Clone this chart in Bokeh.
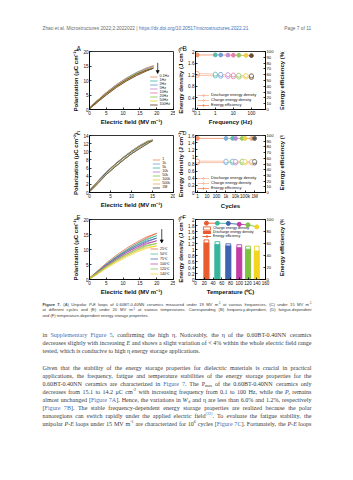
import re, math
from bokeh.plotting import figure
from bokeh.layouts import column, row
from bokeh.models import (Range1d, LinearAxis, Label, Legend, LegendItem, Arrow,
                          NormalHead, FixedTicker, ColumnDataSource)
from bokeh.core.properties import value
from bokeh.embed import file_html
from bokeh.resources import INLINE

# ====================== DATA ======================
# (A) unipolar P-E loops at various frequencies (19 MV/m)
A_FIELD = [0, 2, 5, 8, 11, 14, 17, 19]
A_LABELS = ["0.1Hz", "1Hz", "2Hz", "5Hz", "10Hz", "20Hz", "50Hz", "100Hz"]
A_UP = [
    [0.2, 2.3, 5.3, 8.0, 10.3, 12.3, 14.0, 15.1],
    [0.2, 2.3, 5.2, 7.9, 10.2, 12.2, 13.9, 14.9],
    [0.2, 2.3, 5.2, 7.9, 10.1, 12.1, 13.8, 14.8],
    [0.2, 2.2, 5.2, 7.8, 10.1, 12.0, 13.7, 14.7],
    [0.2, 2.2, 5.1, 7.8, 10.0, 12.0, 13.6, 14.6],
    [0.2, 2.2, 5.1, 7.7, 10.0, 11.9, 13.5, 14.5],
    [0.2, 2.2, 5.1, 7.7, 9.9, 11.8, 13.4, 14.35],
    [0.2, 2.2, 5.0, 7.6, 9.8, 11.7, 13.3, 14.2],
]
A_DOWN = [
    [0.5, 2.8, 5.9, 8.6, 10.9, 12.8, 14.4, 15.1],
    [0.5, 2.8, 5.8, 8.5, 10.8, 12.7, 14.2, 14.9],
    [0.5, 2.8, 5.8, 8.5, 10.7, 12.6, 14.1, 14.8],
    [0.5, 2.7, 5.7, 8.4, 10.6, 12.5, 14.0, 14.7],
    [0.5, 2.7, 5.7, 8.3, 10.6, 12.4, 13.9, 14.6],
    [0.5, 2.7, 5.6, 8.3, 10.5, 12.4, 13.8, 14.5],
    [0.5, 2.7, 5.6, 8.2, 10.4, 12.3, 13.7, 14.35],
    [0.5, 2.6, 5.5, 8.1, 10.3, 12.2, 13.6, 14.2],
]
A_ARROW = [20.3, 16.1, 12.4]          # x, y start, y end
A_NOTE = "0.60BT-0.40NN@19MV m⁻¹&25℃"
A_XTICKS = [0, 5, 10, 15, 20, 25]
A_YTICKS = [0, 5, 10, 15, 20]

# (B) frequency-dependent energy storage
B_FREQ = [0.1, 1, 2, 5, 10, 20, 50, 100]
B_CHARGE = [1.24, 1.22, 1.21, 1.20, 1.19, 1.18, 1.17, 1.16]
B_DISCHARGE = [1.18, 1.16, 1.15, 1.14, 1.13, 1.12, 1.12, 1.11]
B_EFF = [94.0, 94.1, 94.0, 93.8, 93.6, 93.5, 93.2, 92.9]
B_XTICKS = [0.1, 1, 10, 100]
B_XLABELS = ["0.1", "1", "10", "100"]
B_YTICKS = [0.0, 0.4, 0.8, 1.2, 1.6, 2.0]
B_RTICKS = [0, 10, 20, 30, 40, 50, 60, 70, 80, 90, 100]

# (C) P-E loops at different cycles (15 MV/m)
C_FIELD = [0, 2, 4, 6, 8, 10, 12, 14, 15]
C_LABELS = ["1", "1k", "5k", "10k", "50k", "100k", "500k", "1M"]
C_UP = [
    [0.2, 2.3, 4.5, 6.3, 8.0, 9.6, 11.0, 12.3, 12.9],
    [0.2, 2.3, 4.5, 6.3, 8.0, 9.6, 11.0, 12.3, 12.9],
    [0.2, 2.3, 4.5, 6.3, 8.0, 9.6, 11.0, 12.2, 12.8],
    [0.2, 2.3, 4.5, 6.3, 8.0, 9.6, 10.9, 12.2, 12.8],
    [0.2, 2.3, 4.4, 6.3, 8.0, 9.5, 10.9, 12.2, 12.8],
    [0.2, 2.3, 4.4, 6.2, 7.9, 9.5, 10.9, 12.2, 12.8],
    [0.2, 2.2, 4.4, 6.2, 7.9, 9.5, 10.9, 12.1, 12.7],
    [0.2, 2.2, 4.4, 6.2, 7.9, 9.5, 10.8, 12.1, 12.7],
]
C_DOWN = [
    [0.5, 2.8, 5.0, 6.9, 8.6, 10.2, 11.6, 12.7, 12.9],
    [0.5, 2.8, 5.0, 6.9, 8.6, 10.2, 11.6, 12.7, 12.9],
    [0.5, 2.8, 5.0, 6.9, 8.6, 10.2, 11.5, 12.6, 12.8],
    [0.5, 2.8, 5.0, 6.9, 8.6, 10.1, 11.5, 12.6, 12.8],
    [0.5, 2.8, 4.9, 6.8, 8.6, 10.1, 11.5, 12.6, 12.8],
    [0.5, 2.8, 4.9, 6.8, 8.5, 10.1, 11.5, 12.6, 12.8],
    [0.5, 2.7, 4.9, 6.8, 8.5, 10.1, 11.4, 12.5, 12.7],
    [0.5, 2.7, 4.9, 6.8, 8.5, 10.0, 11.4, 12.5, 12.7],
]
C_NOTE = "0.60BT-0.40NN@25℃ &15 MV m⁻¹ &10Hz"
C_XTICKS = [0, 5, 10, 15, 20]
C_YTICKS = [0, 2, 4, 6, 8, 10, 12, 14]

# (D) fatigue-dependent energy storage
D_CYCLES = [1, 1e3, 5e3, 1e4, 5e4, 1e5, 5e5, 1e6]
D_CHARGE = [0.88, 0.88, 0.88, 0.87, 0.88, 0.87, 0.87, 0.87]
D_DISCHARGE = [0.84, 0.84, 0.84, 0.83, 0.84, 0.83, 0.83, 0.83]
D_EFF = [95.0, 94.9, 95.0, 94.8, 94.9, 94.8, 94.7, 94.8]
D_XTICKS = [1, 10, 100, 1000, 10000, 100000, 1000000]
D_XLABELS = ["1", "10", "100", "1k", "10k", "100k", "1M"]
D_YTICKS = [0.0, 0.2, 0.4, 0.6, 0.8, 1.0, 1.2, 1.4, 1.6]
D_RTICKS = [0, 10, 20, 30, 40, 50, 60, 70, 80, 90, 100]

# (E) P-E loops at various temperatures (20 MV/m)
E_FIELD = [0, 2, 5, 8, 11, 14, 17, 20]
E_LABELS = ["25℃", "50℃", "75℃", "100℃", "120℃", "140℃"]
E_UP = [
    [0.2, 2.0, 4.9, 7.5, 9.8, 11.9, 13.8, 15.4],
    [0.2, 1.9, 4.7, 7.2, 9.4, 11.4, 13.2, 14.6],
    [0.2, 1.8, 4.5, 6.9, 9.0, 10.9, 12.5, 13.8],
    [0.2, 1.7, 4.2, 6.5, 8.5, 10.3, 11.8, 12.9],
    [0.2, 1.6, 4.0, 6.1, 8.0, 9.7, 11.1, 12.0],
    [0.2, 1.5, 3.7, 5.7, 7.5, 9.1, 10.4, 11.2],
]
E_DOWN = [
    [0.5, 2.5, 5.5, 8.1, 10.4, 12.4, 14.2, 15.4],
    [0.5, 2.4, 5.2, 7.7, 9.9, 11.9, 13.5, 14.6],
    [0.5, 2.2, 5.0, 7.4, 9.5, 11.3, 12.8, 13.8],
    [0.5, 2.1, 4.7, 7.0, 9.0, 10.7, 12.1, 12.9],
    [0.5, 2.0, 4.4, 6.6, 8.4, 10.1, 11.4, 12.0],
    [0.5, 1.9, 4.1, 6.1, 7.9, 9.5, 10.7, 11.2],
]
E_ARROW = [21.5, 16.8, 12.2]
E_NOTE = "0.60BT-0.40NN@20MV m⁻¹ & 10 Hz"
E_XTICKS = [0, 5, 10, 15, 20, 25]
E_YTICKS = [0, 5, 10, 15, 20]

# (F) temperature-dependent energy storage
F_TEMP = [25, 50, 75, 100, 120, 140]
F_CHARGE = [1.32, 1.26, 1.19, 1.16, 1.11, 1.11]
F_DISCHARGE = [1.22, 1.17, 1.12, 1.06, 1.01, 0.95]
F_EFF = [93.9, 93.8, 93.5, 92.0, 91.1, 87.7]
F_XTICKS = [0, 20, 40, 60, 80, 100, 120, 140, 160]
F_YTICKS = [0.0, 0.2, 0.4, 0.6, 0.8, 1.0, 1.2, 1.4, 1.6, 1.8, 2.0]
F_RTICKS = [0, 20, 40, 60, 80, 100]

# ====================== PAGE TEXT ======================
HEADER_LEFT = "Zhao et al. Microstructures 2022;2:2022022 | "
HEADER_URL = "https://dx.doi.org/10.20517/microstructures.2022.21"
HEADER_RIGHT = "Page 7 of 11"
RIGHT_TITLE = "Energy efficiency (%)"
CAPTION = [
    "{B:Figure 7.} (A) Unipolar {I:P-E} loops of 0.60BT-0.40NN ceramics measured under 19 MV m{P:-1} at various frequencies, (C) under 15 MV m{P:-1}",
    "at different cycles and (E) under 20 MV m{P:-1} at various temperatures. Corresponding (B) frequency-dependent, (D) fatigue-dependent",
    "and (F) temperature-dependent energy storage properties.",
]
PARA1 = [
    "in {L:Supplementary Figure 5}, confirming the high η. Noticeably, the η of the 0.60BT-0.40NN ceramics",
    "decreases slightly with increasing {I:E} and shows a slight variation of < 4% within the whole electric field range",
    "tested, which is conducive to high η energy storage applications.",
]
PARA2 = [
    "Given that the stability of the energy storage properties for dielectric materials is crucial in practical",
    "applications, the frequency, fatigue and temperature stabilities of the energy storage properties for the",
    "0.60BT-0.40NN ceramics are characterized in {L:Figure 7}. The P{S:max} of the 0.60BT-0.40NN ceramics only",
    "decreases from 15.1 to 14.2 μC cm{P:-2} with increasing frequency from 0.1 to 100 Hz, while the {I:P}{S:r} remains",
    "almost unchanged [{L:Figure 7A}]. Hence, the variations in {I:W}{S:d} and η are less than 6.0% and 1.2%, respectively",
    "[{L:Figure 7B}]. The stable frequency-dependent energy storage properties are realized because the polar",
    "nanoregions can switch rapidly under the applied electric field{Q:[32]}. To evaluate the fatigue stability, the",
    "unipolar {I:P-E} loops under 15 MV m{P:-1} are characterized for 10{P:6} cycles [{L:Figure 7C}]. Fortunately, the {I:P-E} loops",
]

# ====================== STYLE / LAYOUT ======================
SANS = "Liberation Sans"
SERIF = "Liberation Serif"
FREQ_COLORS = ["#f2956c", "#4fbfb0", "#6f9fd8", "#c58ad4", "#e57fb0", "#8fcb5f", "#ecd044", "#6b4a3a"]
CYC_COLORS = ["#f2956c", "#7aaee0", "#4fbfb0", "#b48ad6", "#8fcb5f", "#ecd044", "#e8b27a", "#5a5a5a"]
TEMP_COLORS = ["#ea5a2e", "#35b59c", "#3e63b0", "#c23da6", "#7fc241", "#f4d41f"]
TEXT_COL = "#3a3a3a"
LINK_COL = "#3f72b8"
INK = "#111111"

W = 353
LEFT_W = 175
STRIP_X = 276                     # right-hand strip holding the rotated efficiency titles
HEADER_H = 38
ROWS = [(38, 127), (127, 211), (211, 297)]
FRAME_X = [(89, 173), (191, 267)]
FRAME_Y = [(51, 113), (133, 194), (218, 280)]
RIGHT_TITLE_X = 281
LETTER_OFFSET = -13

TIMES = ([250, 333, 408, 500, 500, 833, 778, 180, 333, 333, 500, 564, 250, 333, 250, 278] + [500] * 10 +
         [278, 278, 564, 564, 564, 444, 921] +
         [722, 667, 667, 722, 611, 556, 722, 722, 333, 389, 722, 611, 889, 722, 722, 556, 722, 667, 556,
          611, 722, 722, 944, 722, 722, 611] + [333, 278, 333, 469, 500, 333] +
         [444, 500, 444, 500, 444, 333, 500, 500, 278, 278, 500, 278, 778, 500, 500, 500, 500, 333, 389,
          278, 500, 500, 722, 500, 500, 444] + [480, 200, 480, 541])
HELV = ([278, 278, 355, 556, 556, 889, 667, 191, 333, 333, 389, 584, 278, 333, 278, 278] + [556] * 10 +
        [278, 278, 584, 584, 584, 556, 1015] +
        [667, 667, 722, 722, 667, 611, 778, 722, 278, 500, 667, 556, 833, 722, 778, 667, 778, 722, 667,
         611, 722, 667, 944, 667, 667, 611] + [278, 278, 278, 469, 556, 333] +
        [556, 556, 500, 556, 556, 278, 556, 556, 222, 222, 500, 222, 833, 556, 556, 556, 556, 333, 500,
         278, 556, 500, 722, 500, 500, 500] + [334, 260, 334, 584])
EXTRA = {"η": 500, "μ": 560, "⁻": 330, "¹": 300, "²": 300, "³": 300, "⁶": 300, "℃": 950}


def em_width(s, table):
    w = 0
    for ch in s:
        o = ord(ch)
        w += table[o - 32] if 32 <= o <= 126 else EXTRA.get(ch, 500)
    return w / 1000.0


TOK = re.compile(r"\{([LISPQB]):([^}]*)\}")


def parse(s):
    runs, pos = [], 0
    for m in TOK.finditer(s):
        if m.start() > pos:
            runs.append((s[pos:m.start()], "n"))
        runs.append((m.group(2), m.group(1)))
        pos = m.end()
    if pos < len(s):
        runs.append((s[pos:], "n"))
    return runs


def words_of(runs):
    words = [[]]
    for text, st in runs:
        parts = text.split(" ")
        for k, part in enumerate(parts):
            if k > 0:
                words.append([])
            if part:
                words[-1].append((part, st))
    return [w for w in words if w]


# style: size factor, baseline shift (in em, + is down), font style, colour
STY = {"n": (1.0, 0.0, "normal", TEXT_COL), "L": (1.0, 0.0, "normal", LINK_COL),
       "I": (1.0, 0.0, "italic", TEXT_COL), "B": (1.0, 0.0, "bold", TEXT_COL),
       "S": (0.68, 0.32, "normal", TEXT_COL), "P": (0.68, -0.38, "normal", TEXT_COL),
       "Q": (0.68, -0.38, "normal", LINK_COL)}


def piece_w(text, st, size, table):
    f = STY[st][0] * (1.07 if st == "B" else 1.0)
    return em_width(text, table) * size * f


def set_lines(data, lines, ys, x0, x1, size, table, justify):
    for line, y, jus in zip(lines, ys, justify):
        words = words_of(parse(line))
        widths = [sum(piece_w(t, s, size, table) for t, s in w) for w in words]
        space = em_width(" ", table) * size
        if jus and len(words) > 1:
            space = (x1 - x0 - sum(widths)) / (len(words) - 1)
        x = x0
        for w, ww in zip(words, widths):
            xx = x
            for t, s in w:
                f, dy, fs, col = STY[s]
                data["x"].append(xx)
                data["y"].append(y + dy * size)
                data["t"].append(t)
                data["c"].append(col)
                data["fs"].append(fs)
                data["sz"].append("%.2fpx" % (size * f))
                xx += piece_w(t, s, size, table)
            x += ww + space


def plain_figure(x0, x1, y0, y1):
    """figure whose data coordinates are page pixels (y measured upward as -page_y)"""
    p = figure(width=x1 - x0, height=y1 - y0, x_range=Range1d(x0, x1), y_range=Range1d(-y1, -y0),
               x_axis_type=None, y_axis_type=None, output_backend="svg",
               toolbar_location=None, min_border=0)
    p.grid.visible = False
    p.outline_line_color = None
    p.background_fill_color = "white"
    p.border_fill_color = "white"
    return p


def draw_runs(p, data, font):
    d = dict(data)
    d["y"] = [-v for v in data["y"]]
    p.text(x="x", y="y", text="t", text_color="c", text_font_style="fs", text_font_size="sz",
           text_font=value(font), text_baseline="middle", text_align="left", source=ColumnDataSource(d))


def new_data():
    return {"x": [], "y": [], "t": [], "c": [], "fs": [], "sz": []}


# ---------- header ----------
header = plain_figure(0, W, 0, HEADER_H)
hsize = (248 - 42) / em_width(HEADER_LEFT + HEADER_URL, HELV)
hd = new_data()
for txt, x, col in [(HEADER_LEFT, 42, "#6a6a6a"),
                    (HEADER_URL, 42 + em_width(HEADER_LEFT, HELV) * hsize, LINK_COL),
                    (HEADER_RIGHT, 311 - em_width(HEADER_RIGHT, HELV) * hsize, "#6a6a6a")]:
    hd["x"].append(x); hd["y"].append(28); hd["t"].append(txt); hd["c"].append(col)
    hd["fs"].append("normal"); hd["sz"].append("%.2fpx" % hsize)
draw_runs(header, hd, SANS)


# ---------- panels ----------
def style_axis(ax, label_size="6px", tick_size="4.6px"):
    ax.axis_label_text_font = SANS
    ax.axis_label_text_font_style = "bold"
    ax.axis_label_text_font_size = label_size
    ax.axis_label_text_color = INK
    ax.axis_label_standoff = 1
    ax.major_label_text_font = SANS
    ax.major_label_text_font_size = tick_size
    ax.major_label_text_color = INK
    ax.major_label_standoff = 1
    ax.major_tick_in = 2
    ax.major_tick_out = 0
    ax.minor_tick_line_color = None
    ax.axis_line_width = 0.8
    ax.major_tick_line_width = 0.8


def panel(col, r, xr, yr, xlabel, ylabel, letter, letter_size, x_type="linear"):
    top, bottom = ROWS[r]
    fx0, fx1 = FRAME_X[col]
    fy0, fy1 = FRAME_Y[r]
    x0 = 0 if col == 0 else LEFT_W
    x1 = LEFT_W if col == 0 else STRIP_X
    p = figure(width=x1 - x0, height=bottom - top, x_range=xr, y_range=yr, x_axis_type=x_type,
               output_backend="svg", toolbar_location=None, title=letter,
               min_border_left=fx0 - x0, min_border_right=x1 - fx1,
               min_border_top=fy0 - top, min_border_bottom=bottom - fy1)
    p.title.align = "left"
    p.title.offset = LETTER_OFFSET
    p.title.standoff = 0
    p.title.text_font = SANS
    p.title.text_font_size = letter_size
    p.title.text_font_style = "normal"
    p.title.text_color = INK
    p.grid.visible = False
    p.outline_line_color = "black"
    p.outline_line_width = 0.8
    p.background_fill_color = "white"
    p.border_fill_color = "white"
    p.xaxis.axis_label = xlabel
    p.yaxis.axis_label = ylabel
    for ax in p.axis:
        style_axis(ax)
    return p


def small_legend(p, items, loc, fs="3.6px", gw=8, gh=3, lh=3, margin=3):
    leg = Legend(items=items, location=loc)
    leg.label_text_font = SANS
    leg.label_text_font_size = fs
    leg.label_text_color = INK
    leg.glyph_width = gw
    leg.glyph_height = gh
    leg.label_height = lh
    leg.label_width = 4
    leg.label_standoff = 2
    leg.spacing = 0
    leg.padding = 1
    leg.margin = margin
    leg.border_line_color = None
    leg.background_fill_alpha = 0
    p.add_layout(leg)
    return leg


def right_axis(p, ticks):
    p.extra_y_ranges = {"eff": Range1d(0, 100)}
    rax = LinearAxis(y_range_name="eff")
    p.add_layout(rax, "right")
    style_axis(rax, tick_size="4.2px")
    rax.ticker = FixedTicker(ticks=ticks)
    return rax


def strip(r):
    top, bottom = ROWS[r]
    fy0, fy1 = FRAME_Y[r]
    s = plain_figure(STRIP_X, W, top, bottom)
    s.text(x=[RIGHT_TITLE_X], y=[-(fy0 + fy1) / 2], text=[RIGHT_TITLE], angle=math.pi / 2,
           text_align="center", text_baseline="middle", text_font=value(SANS), text_font_style="bold",
           text_font_size="6px", text_color=INK)
    return s


def pe_panel(col, r, xmax, ymax, xticks, yticks, field, ups, downs, labels, colors, note, arrow,
             letter, letter_size, alpha=1.0):
    p = panel(col, r, Range1d(0, xmax), Range1d(0, ymax), "Electric field (MV m⁻¹)",
              "Polarization (μC cm⁻²)", letter, letter_size)
    p.xaxis.ticker = FixedTicker(ticks=xticks)
    p.yaxis.ticker = FixedTicker(ticks=yticks)
    items = []
    for up, dn, lab, c in zip(ups, downs, labels, colors):
        rr = p.line(field + field[::-1], up + dn[::-1], line_color=c, line_width=0.9, line_alpha=alpha)
        items.append(LegendItem(label=lab, renderers=[rr]))
    small_legend(p, items, "bottom_right")
    p.add_layout(Label(x=2, y=-4, x_units="screen", y_units="screen", text=note, text_font=SANS,
                       text_font_size="3.8px", text_font_style="bold", text_color=INK,
                       text_baseline="top", text_align="left"))
    if arrow is not None:
        p.add_layout(Arrow(end=NormalHead(size=3, line_color="black", fill_color="black", line_width=0.6),
                           x_start=arrow[0], y_start=arrow[1], x_end=arrow[0], y_end=arrow[2],
                           line_width=0.7, line_color="black"))
    return p


def energy_panel(col, r, xr, x_type, ymax, xlabel, xs, charge, discharge, eff, colors,
                 xticks, xlabels, yticks, rticks, letter, letter_size):
    p = panel(col, r, xr, Range1d(0, ymax), xlabel, "Energy density (J cm⁻³)", letter, letter_size, x_type)
    right_axis(p, rticks)
    p.xaxis.ticker = FixedTicker(ticks=xticks)
    p.xaxis.major_label_overrides = {t: l for t, l in zip(xticks, xlabels)}
    p.yaxis[0].ticker = FixedTicker(ticks=yticks)
    l1 = p.line(xs, discharge, line_color="#f6b89c", line_width=0.8)
    s1 = p.scatter(xs, discharge, marker="circle", size=4.2, fill_color="white", line_color=colors, line_width=0.8)
    l2 = p.line(xs, charge, line_color="#f6b89c", line_width=0.8)
    s2 = p.scatter(xs, charge, marker="hex", size=4.4, fill_color="white", line_color=colors, line_width=0.8)
    l3 = p.line(xs, eff, line_color="#ee8a62", line_width=0.8, y_range_name="eff")
    s3 = p.scatter(xs, eff, marker="circle", size=3.8, fill_color=colors, line_color=colors, y_range_name="eff")
    items = [LegendItem(label="Discharge energy density", renderers=[l1, s1]),
             LegendItem(label="Charge energy density", renderers=[l2, s2]),
             LegendItem(label="Energy efficiency", renderers=[l3, s3])]
    small_legend(p, items, "bottom_left", fs="4px", gw=12, gh=4, lh=4, margin=2)
    return p


pA = pe_panel(0, 0, 25, 20, A_XTICKS, A_YTICKS, A_FIELD, A_UP, A_DOWN, A_LABELS, FREQ_COLORS, A_NOTE, A_ARROW,
              "A", "6.5px")
pC = pe_panel(0, 1, 20, 14, C_XTICKS, C_YTICKS, C_FIELD, C_UP, C_DOWN, C_LABELS, CYC_COLORS, C_NOTE, None,
              "C", "5.5px")
pE = pe_panel(0, 2, 25, 20, E_XTICKS, E_YTICKS, E_FIELD, E_UP, E_DOWN, E_LABELS, TEMP_COLORS, E_NOTE, E_ARROW,
              "E", "6px", 0.8)

pB = energy_panel(1, 0, Range1d(0.08, 600), "log", 2.0, "Frequency (Hz)", B_FREQ, B_CHARGE, B_DISCHARGE, B_EFF,
                  FREQ_COLORS, B_XTICKS, B_XLABELS, B_YTICKS, B_RTICKS, "B", "6.5px")
pD = energy_panel(1, 1, Range1d(0.63, 1.4e7), "log", 1.6, "Cycles", D_CYCLES, D_CHARGE, D_DISCHARGE, D_EFF,
                  CYC_COLORS, D_XTICKS, D_XLABELS, D_YTICKS, D_RTICKS, "D", "5.5px")

# (F) bars
pF = panel(1, 2, Range1d(0, 160), Range1d(0, 2.0), "Temperature (℃)", "Energy density (J cm⁻³)", "F", "6px")
right_axis(pF, F_RTICKS)
pF.xaxis.ticker = FixedTicker(ticks=F_XTICKS)
pF.yaxis[0].ticker = FixedTicker(ticks=F_YTICKS)
bc = pF.vbar(x=F_TEMP, top=F_CHARGE, width=11, fill_color="white", line_color=TEMP_COLORS, line_width=0.9)
bd = pF.vbar(x=F_TEMP, top=F_DISCHARGE, width=11, fill_color=TEMP_COLORS, line_color=TEMP_COLORS, line_width=0.9)
sg = pF.segment(x0=F_TEMP[:-1], y0=F_EFF[:-1], x1=F_TEMP[1:], y1=F_EFF[1:], line_color=TEMP_COLORS[:-1],
                line_width=0.9, y_range_name="eff")
se = pF.scatter(F_TEMP, F_EFF, marker="circle", size=4, fill_color=TEMP_COLORS, line_color=TEMP_COLORS,
                y_range_name="eff")
small_legend(pF, [LegendItem(label="Charge energy density", renderers=[bc]),
                  LegendItem(label="Discharge energy density", renderers=[bd]),
                  LegendItem(label="Energy efficiency", renderers=[sg, se])],
             "top_left", fs="3.6px", gw=9, gh=4, lh=4, margin=7)

# ---------- caption + body ----------
body = plain_figure(0, W, 297, 480)
bd_data = new_data()
set_lines(bd_data, CAPTION, [303.5, 309.2, 314.9], 42, 311, 4.1, HELV, [True, True, False])
draw_runs(body, bd_data, SANS)

txt = new_data()
all_lines = PARA1 + PARA2
nat = max(sum(sum(em_width(t, TIMES) * STY[s][0] for t, s in w) for w in words_of(parse(l)))
          + 0.2 * (len(words_of(parse(l))) - 1) for l in all_lines)
bsize = min(6.1, 269 / nat)
set_lines(txt, PARA1, [334.6, 342.6, 350.6], 42, 311, bsize, TIMES, [True, True, False])
set_lines(txt, PARA2, [367, 375, 383, 391, 399, 407, 415, 423], 42, 311, bsize, TIMES, [True] * 8)
draw_runs(body, txt, SERIF)

layout = column(header,
                row(pA, pB, strip(0)),
                row(pC, pD, strip(1)),
                row(pE, pF, strip(2)),
                body)
open("out.html", "w").write(file_html(layout, INLINE))
